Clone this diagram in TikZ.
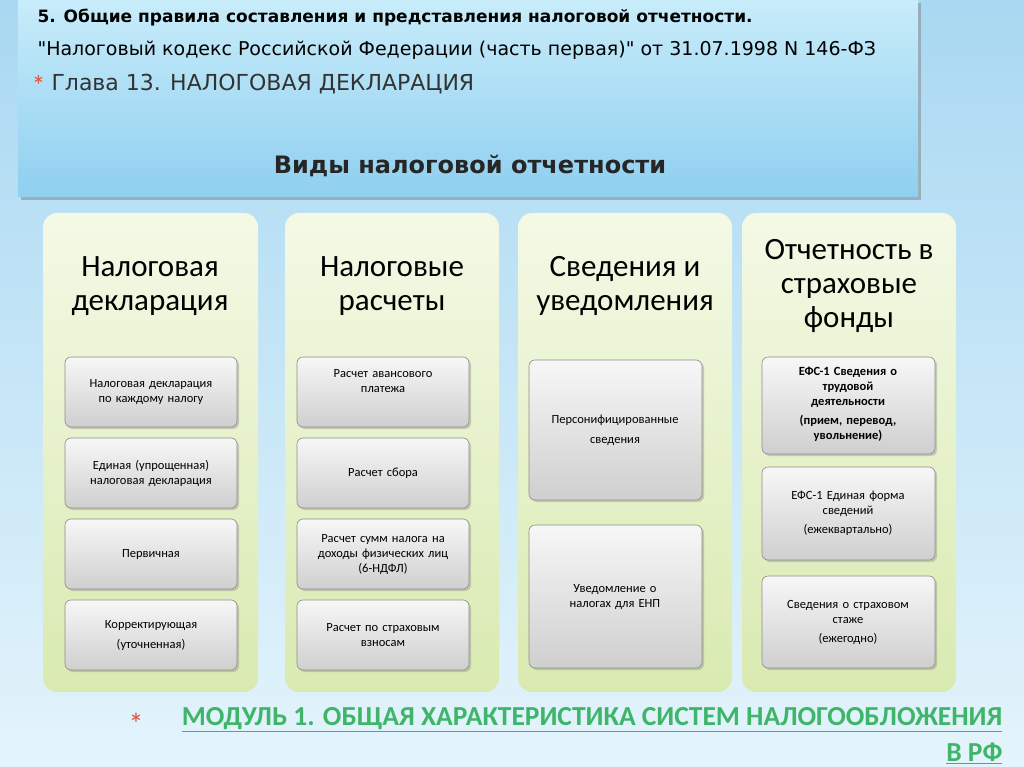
\documentclass[tikz,border=0pt]{standalone}
\usepackage{fontspec}
\setmainfont{Carlito}
\newfontfamily\arialf{DejaVu Sans}
\usetikzlibrary{shadows}
\definecolor{bgA}{HTML}{A9D8F2}
\definecolor{bgB}{HTML}{E4F4FC}
\definecolor{hdA}{HTML}{C8ECFA}
\definecolor{hdB}{HTML}{8FCFF0}
\definecolor{colA}{HTML}{D9EAB0}
\definecolor{colB}{HTML}{F4F9E6}
\definecolor{boxA}{HTML}{F7F7F7}
\definecolor{boxB}{HTML}{CFCFCF}
\definecolor{modgreen}{HTML}{3FB56A}
\definecolor{starred}{HTML}{E0503C}
\tikzset{
 colbox/.style={rounded corners=14pt,top color=colB,bottom color=colA,draw=none},
 inbox/.style={rounded corners=6pt,top color=boxA,bottom color=boxB,draw=black!45,line width=0.6pt,
   drop shadow={shadow xshift=2pt,shadow yshift=-2pt,opacity=0.35}},
 intext/.style={align=center,font=\fontsize{12.5}{15}\selectfont,text width=165pt},
 ttl/.style={align=center,font=\fontsize{31}{34}\selectfont}
}
\begin{document}
\begin{tikzpicture}[x=1pt,y=-1pt]
\shade[top color=bgA,bottom color=bgB] (0,0) rectangle (1024,767);
\useasboundingbox (0,0) rectangle (1024,767);
\shade[top color=hdA,bottom color=hdB,drop shadow={shadow xshift=3pt,shadow yshift=-3pt,opacity=0.5}]
  (18,0) rectangle (918,197);
\node[anchor=west,font=\arialf\fontsize{17}{18}\selectfont\bfseries] (h1) at (34,18) {5. Общие правила составления и представления налоговой отчетности.};
\node[anchor=west,font=\arialf\fontsize{19}{18}\selectfont] (h2) at (34,50) {"Налоговый кодекс Российской Федерации (часть первая)" от 31.07.1998 N 146-ФЗ};
\node[anchor=west,font=\fontsize{28}{26}\selectfont,text=starred] (st) at (28,86) {*};
\node[anchor=west,font=\arialf\fontsize{22}{24}\selectfont,text=black!80] (h3) at (48,84) {Глава 13. НАЛОГОВАЯ ДЕКЛАРАЦИЯ};
\node[font=\arialf\fontsize{24}{26}\selectfont\bfseries,text=black!85] (h4) at (470,166) {Виды налоговой отчетности};
% columns
\path[colbox] (43,213) rectangle (258,692);
\path[colbox] (285,213) rectangle (499,692);
\path[colbox] (518,213) rectangle (732,692);
\path[colbox] (742,213) rectangle (956,692);
\node[ttl] (t1) at (150,286) {Налоговая\\декларация};
\node[ttl] (t2) at (392,286) {Налоговые\\расчеты};
\node[ttl] (t3) at (625,286) {Сведения и\\уведомления};
\node[ttl] (t4) at (849,286) {Отчетность в\\страховые\\фонды};
% col1
\path[inbox] (65,357) rectangle (237,427); \node[intext] (a1) at (151,392) {Налоговая декларация\\по каждому налогу};
\path[inbox] (65,438) rectangle (237,508); \node[intext] (a2) at (151,473) {Единая (упрощенная)\\налоговая декларация};
\path[inbox] (65,519) rectangle (237,589); \node[intext] (a3) at (151,554) {Первичная};
\path[inbox] (65,600) rectangle (237,670); \node[intext,font=\fontsize{12.5}{20}\selectfont] (a4) at (151,635) {Корректирующая\\(уточненная)};
% col2
\path[inbox] (297,357) rectangle (469,427); \node[intext] (b1) at (383,381) {Расчет авансового\\платежа};
\path[inbox] (297,438) rectangle (469,508); \node[intext] (b2) at (383,473) {Расчет сбора};
\path[inbox] (297,519) rectangle (469,589); \node[intext] (b3) at (383,554) {Расчет сумм налога на\\доходы физических лиц\\(6-НДФЛ)};
\path[inbox] (297,600) rectangle (469,670); \node[intext] (b4) at (383,635) {Расчет по страховым\\взносам};
% col3
\path[inbox] (529,360) rectangle (702,500); \node[intext,font=\fontsize{12.5}{20}\selectfont] (c1) at (615,430) {Персонифицированные\\сведения};
\path[inbox] (529,525) rectangle (702,668); \node[intext] (c2) at (615,597) {Уведомление о\\налогах для ЕНП};
% col4
\path[inbox] (762,357) rectangle (935,454); \node[intext,font=\fontsize{12.5}{15}\selectfont\bfseries] (d1) at (848,404) {ЕФС-1 Сведения о\\трудовой\\деятельности\\[4pt](прием, перевод,\\увольнение)};
\path[inbox] (762,467) rectangle (935,560); \node[intext] (d2) at (848,513) {ЕФС-1 Единая форма\\сведений\\[4pt](ежеквартально)};
\path[inbox] (762,576) rectangle (935,668); \node[intext] (d3) at (848,622) {Сведения о страховом\\стаже\\[4pt](ежегодно)};
% footer
\node[font=\fontsize{30}{26}\selectfont,text=starred] (fs) at (136,724) {*};
\node[anchor=east,font=\fontsize{27.5}{26}\selectfont\bfseries,text=modgreen] (f1) at (1006,720) {\underline{МОДУЛЬ 1. ОБЩАЯ ХАРАКТЕРИСТИКА СИСТЕМ НАЛОГООБЛОЖЕНИЯ}};
\node[anchor=east,font=\fontsize{27.5}{26}\selectfont\bfseries,text=modgreen] (f2) at (1006,753) {\underline{В РФ}};
\end{tikzpicture}
\end{document}
